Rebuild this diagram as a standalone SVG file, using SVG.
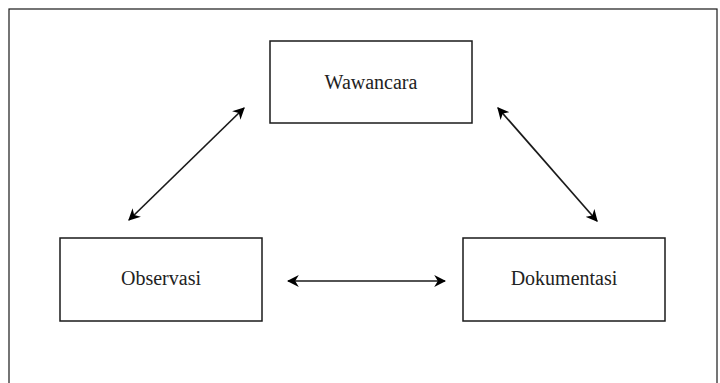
<svg xmlns="http://www.w3.org/2000/svg" width="720" height="383" viewBox="0 0 720 383">
<style>
.box{fill:#fff;stroke:#1a1a1a;stroke-width:1.5}
.lbl{font-family:"Liberation Serif","Times New Roman",serif;font-size:20px;fill:#222;text-anchor:middle}
.conn{stroke:#1a1a1a;stroke-width:1.7;fill:none;marker-start:url(#ah);marker-end:url(#ah)}
</style>
<defs>
<marker id="ah" viewBox="0 0 10 10" refX="9" refY="5" markerWidth="12" markerHeight="12" markerUnits="userSpaceOnUse" orient="auto-start-reverse">
<path d="M0,0 L10,5 L0,10 L3,5 Z" fill="#000"/>
</marker>
</defs>
<rect x="0" y="0" width="720" height="383" fill="#fff"/>
<rect x="9" y="9" width="708" height="380" fill="none" stroke="#1a1a1a" stroke-width="1.2"/>
<g id="wawancara">
<rect class="box" x="270" y="41" width="202" height="82"/>
<text class="lbl" x="371" y="89">Wawancara</text>
</g>
<g id="observasi">
<rect class="box" x="60" y="238" width="202" height="83"/>
<text class="lbl" x="161" y="285">Observasi</text>
</g>
<g id="dokumentasi">
<rect class="box" x="463" y="238" width="202" height="83"/>
<text class="lbl" x="564" y="285">Dokumentasi</text>
</g>
<g id="connectors">
<line class="conn" x1="129" y1="220" x2="244" y2="108"/>
<line class="conn" x1="498" y1="108" x2="597" y2="221"/>
<line class="conn" x1="288" y1="281" x2="445" y2="281"/>
</g>
</svg>
